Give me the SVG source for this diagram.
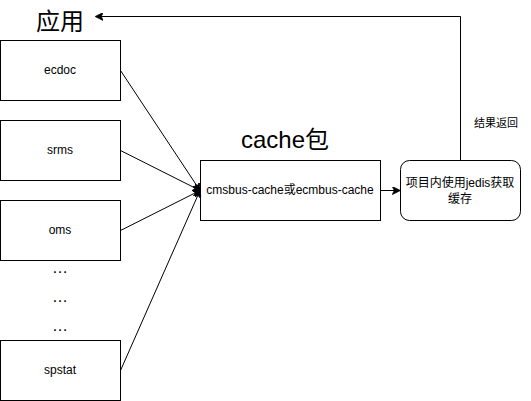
<svg xmlns="http://www.w3.org/2000/svg" width="531" height="401" viewBox="0 0 531 401">
<style>
.box{fill:#fff;stroke:#000;stroke-width:1}
.lbl{font-family:"Liberation Sans","Noto Sans CJK SC",sans-serif;font-size:12px;fill:#000;text-anchor:middle}
.big{font-family:"Liberation Sans","Noto Sans CJK SC",sans-serif;font-size:24px;fill:#000;text-anchor:middle}
.sm{font-family:"Liberation Sans","Noto Sans CJK SC",sans-serif;font-size:11px;fill:#000;text-anchor:middle}
.edge{fill:none;stroke:#000;stroke-width:1}
</style>
<defs>
<marker id="arr" viewBox="0 0 10 10" refX="9" refY="5" markerWidth="8" markerHeight="8" markerUnits="userSpaceOnUse" orient="auto">
<path d="M0,0 L10,5 L0,10 L2.5,5 Z" fill="#000" stroke="#000" stroke-width="1"/>
</marker>
</defs>
<rect width="531" height="401" fill="#fff"/>
<text class="big" x="60" y="30">应用</text>
<text class="big" x="285" y="148">cache包</text>
<text class="sm" x="496" y="127">结果返回</text>
<g id="ecdoc"><rect class="box" x="0.5" y="40.5" width="120" height="60"/><text class="lbl" x="60" y="74">ecdoc</text></g>
<g id="srms"><rect class="box" x="0.5" y="120.5" width="120" height="60"/><text class="lbl" x="60" y="154">srms</text></g>
<g id="oms"><rect class="box" x="0.5" y="200.5" width="120" height="60"/><text class="lbl" x="60" y="234">oms</text></g>
<g id="dots"><text class="lbl" x="60" y="273" style="font-size:16px">…</text><text class="lbl" x="60" y="302" style="font-size:16px">…</text><text class="lbl" x="60" y="331" style="font-size:16px">…</text></g>
<g id="spstat"><rect class="box" x="0.5" y="340.5" width="120" height="60"/><text class="lbl" x="60" y="374">spstat</text></g>
<g id="cache"><rect class="box" x="200.5" y="160.5" width="180" height="60"/><text class="lbl" x="290" y="194">cmsbus-cache或ecmbus-cache</text></g>
<g id="jedis"><rect class="box" x="400.5" y="160.5" width="120" height="60" rx="9" ry="9"/><text class="lbl" x="460" y="187">项目内使用jedis获取</text><text class="lbl" x="460" y="203">缓存</text></g>
<g id="connectors">
<path class="edge" d="M120.5,70.5 L200,190.5" marker-end="url(#arr)"/>
<path class="edge" d="M120.5,150.5 L200,190.5" marker-end="url(#arr)"/>
<path class="edge" d="M120.5,230.5 L200,190.5" marker-end="url(#arr)"/>
<path class="edge" d="M120.5,370.5 L200,190.5" marker-end="url(#arr)"/>
<path class="edge" d="M380.5,190.5 L399.5,190.5" marker-end="url(#arr)"/>
<path class="edge" d="M460.5,160.5 L460.5,16.5 L96,16.5" marker-end="url(#arr)"/>
</g>
</svg>
